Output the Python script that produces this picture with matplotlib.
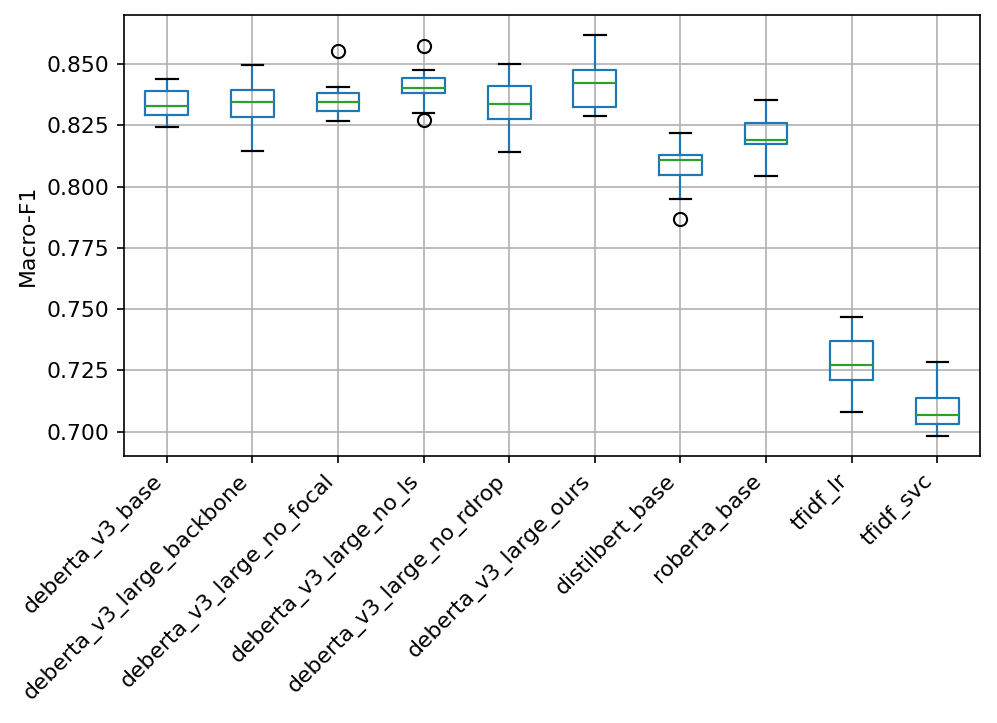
import numpy as np
import matplotlib
matplotlib.use("Agg")
import matplotlib.pyplot as plt

plt.rcParams['font.size'] = 10.5

# model names (x axis)
models = ['deberta_v3_base', 'deberta_v3_large_backbone', 'deberta_v3_large_no_focal',
          'deberta_v3_large_no_ls', 'deberta_v3_large_no_rdrop', 'deberta_v3_large_ours',
          'distilbert_base', 'roberta_base', 'tfidf_lr', 'tfidf_svc']

# box statistics (Macro-F1)
whisker_low = [0.8241, 0.8146, 0.8268, 0.8301, 0.8142, 0.8286, 0.7948, 0.8041, 0.7079, 0.6982]
q1 = [0.8293, 0.8283, 0.8309, 0.8380, 0.8274, 0.8323, 0.8046, 0.8172, 0.7213, 0.7030]
median = [0.8328, 0.8345, 0.8346, 0.8402, 0.8338, 0.8421, 0.8108, 0.8189, 0.7274, 0.7068]
q3 = [0.8388, 0.8395, 0.8383, 0.8443, 0.8409, 0.8475, 0.8130, 0.8260, 0.7369, 0.7138]
whisker_high = [0.8439, 0.8497, 0.8407, 0.8474, 0.8501, 0.8617, 0.8218, 0.8353, 0.7467, 0.7285]
outliers = [[], [], [0.8554], [0.8575, 0.8270], [], [], [0.7868], [], [], []]

stats = []
for i in range(len(models)):
    stats.append({'label': models[i], 'whislo': whisker_low[i], 'q1': q1[i],
                  'med': median[i], 'q3': q3[i], 'whishi': whisker_high[i],
                  'fliers': outliers[i]})

fig = plt.figure(figsize=(997 / 150, 723 / 150), dpi=150)
ax = fig.add_axes([0.1244, 0.369, 0.8586, 0.61])

ax.bxp(stats, widths=0.5,
       boxprops=dict(color='#1f77b4', linewidth=1.05),
       whiskerprops=dict(color='#1f77b4', linewidth=1.05),
       capprops=dict(color='black', linewidth=1.05),
       medianprops=dict(color='#2ca02c', linewidth=1.05),
       flierprops=dict(marker='o', markersize=6.3, markerfacecolor='none',
                       markeredgecolor='black'))

ax.grid(True, color='#b0b0b0')
ax.set_axisbelow(True)
ax.set_ylabel('Macro-F1')
ax.set_yticks([0.700, 0.725, 0.750, 0.775, 0.800, 0.825, 0.850])
ax.yaxis.set_major_formatter(matplotlib.ticker.FormatStrFormatter('%.3f'))
plt.setp(ax.get_xticklabels(), rotation=45, ha='right')

fig.savefig('out.png', dpi=150)
